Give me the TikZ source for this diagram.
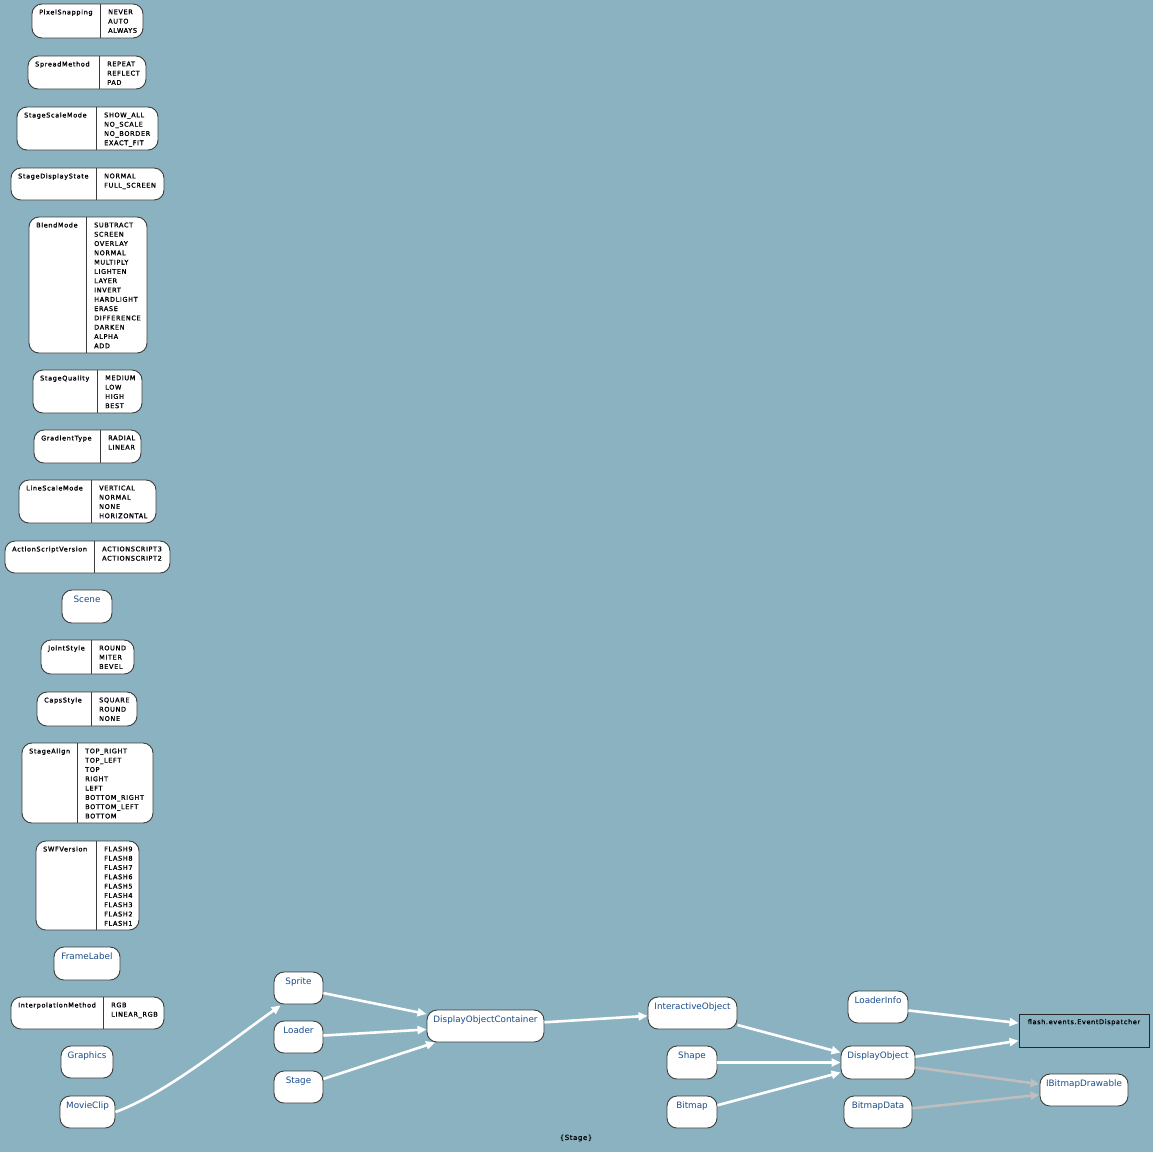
\documentclass[tikz,border=0pt]{standalone}
\usepackage{fontspec}
\setmainfont{DejaVu Sans}
\usetikzlibrary{fit,arrows.meta}
\definecolor{bgc}{RGB}{138,178,193}
\definecolor{lblue}{RGB}{26,76,138}
\definecolor{bord}{RGB}{60,60,60}
\definecolor{impl}{RGB}{190,190,190}
\newfontfamily\smallf[LetterSpace=10,FakeBold=1.2]{DejaVu Sans}
\newfontfamily\capf[LetterSpace=8,FakeBold=0.6]{DejaVu Sans}
\tikzset{
  recbox/.style={draw=bord, fill=white, rounded corners=10pt, inner sep=0pt, line width=0.9pt},
  divline/.style={draw=bord, line width=0.9pt},
  rectext/.style={inner sep=0pt, anchor=north west, align=left, font=\smallf\fontsize{6.5}{9.3}\selectfont, text=black},
  bluelbl/.style={inner sep=0pt, anchor=north, font=\fontsize{8.8}{10}\selectfont, text=lblue},
  edge/.style={draw=white, line width=2.6pt, -{Triangle[length=9pt,width=8pt]}},
  impledge/.style={draw=impl, line width=2.6pt, -{Triangle[length=9pt,width=8pt]}},
}
\newcommand{\mkrec}[8]{%
  \node[recbox, fit={(#2,#3)(#4,#5)}] (#1) {};
  \draw[divline] (#6,#3) -- (#6,#5);
  \node[rectext] (#1-t) at (#2+7,#3+5.3) {#7};
  \node[rectext] (#1-v) at (#6+8,#3+5.3) {#8};
}
\newcommand{\mkcls}[6]{%
  \node[recbox, fit={(#2,#3)(#4,#5)}] (#1) {};
  \node[bluelbl] (#1-t) at ({(#2+#4)/2},#3+5.5) {#6};
}
\begin{document}
\begin{tikzpicture}[x=1pt,y=-1pt]
\fill[bgc] (0,0) rectangle (1153,1152);
\useasboundingbox (0,0) rectangle (1153,1152);

\mkrec{PixelSnapping}{32}{4}{143}{38}{100}{PixelSnapping}{NEVER\\AUTO\\ALWAYS}
\mkrec{SpreadMethod}{28}{56}{146}{89}{99}{SpreadMethod}{REPEAT\\REFLECT\\PAD}
\mkrec{StageScaleMode}{17}{107}{158}{150}{96}{StageScaleMode}{SHOW\_ALL\\NO\_SCALE\\NO\_BORDER\\EXACT\_FIT}
\mkrec{StageDisplayState}{11}{168}{164}{200}{96}{StageDisplayState}{NORMAL\\FULL\_SCREEN}
\mkrec{BlendMode}{29}{217}{147}{353}{86}{BlendMode}{SUBTRACT\\SCREEN\\OVERLAY\\NORMAL\\MULTIPLY\\LIGHTEN\\LAYER\\INVERT\\HARDLIGHT\\ERASE\\DIFFERENCE\\DARKEN\\ALPHA\\ADD}
\mkrec{StageQuality}{33}{370}{142}{413}{97}{StageQuality}{MEDIUM\\LOW\\HIGH\\BEST}
\mkrec{GradientType}{34}{430}{141}{463}{100}{GradientType}{RADIAL\\LINEAR}
\mkrec{LineScaleMode}{19}{480}{156}{523}{91}{LineScaleMode}{VERTICAL\\NORMAL\\NONE\\HORIZONTAL}
\mkrec{ActionScriptVersion}{5}{541}{170}{573}{94}{ActionScriptVersion}{ACTIONSCRIPT3\\ACTIONSCRIPT2}
\mkcls{Scene}{62}{590}{112}{623}{Scene}
\mkrec{JointStyle}{41}{640}{134}{674}{91}{JointStyle}{ROUND\\MITER\\BEVEL}
\mkrec{CapsStyle}{37}{692}{137}{726}{91}{CapsStyle}{SQUARE\\ROUND\\NONE}
\mkrec{StageAlign}{22}{743}{153}{823}{77}{StageAlign}{TOP\_RIGHT\\TOP\_LEFT\\TOP\\RIGHT\\LEFT\\BOTTOM\_RIGHT\\BOTTOM\_LEFT\\BOTTOM}
\mkrec{SWFVersion}{36}{841}{139}{930}{96}{SWFVersion}{FLASH9\\FLASH8\\FLASH7\\FLASH6\\FLASH5\\FLASH4\\FLASH3\\FLASH2\\FLASH1}
\mkcls{FrameLabel}{54}{947}{120}{980}{FrameLabel}
\mkrec{InterpolationMethod}{11}{997}{164}{1029}{103}{InterpolationMethod}{RGB\\LINEAR\_RGB}
\mkcls{Graphics}{61}{1046}{113}{1078}{Graphics}
\mkcls{MovieClip}{60}{1096}{115}{1128}{MovieClip}

\mkcls{Sprite}{274}{972}{323}{1004}{Sprite}
\mkcls{Loader}{274}{1021}{323}{1053}{Loader}
\mkcls{Stage}{274}{1071}{323}{1103}{Stage}
\mkcls{DOC}{427}{1010}{544}{1042}{DisplayObjectContainer}
\mkcls{IO}{648}{997}{737}{1029}{InteractiveObject}
\mkcls{Shape}{667}{1046}{717}{1079}{Shape}
\mkcls{Bitmap}{667}{1096}{717}{1128}{Bitmap}
\mkcls{LoaderInfo}{848}{991}{908}{1023}{LoaderInfo}
\mkcls{DO}{841}{1046}{915}{1079}{DisplayObject}
\mkcls{BitmapData}{844}{1096}{912}{1128}{BitmapData}
\mkcls{IBD}{1040}{1074}{1128}{1106}{IBitmapDrawable}

\node[draw=black!85, line width=0.9pt, fill=bgc, inner sep=0pt, fit={(1019,1014)(1149,1047)}] (ED) {};
\node[rectext, anchor=north] (ED-t) at (1084,1019) {flash.events.EventDispatcher};

\node[inner sep=0pt, font=\capf\fontsize{7}{8}\selectfont] (caption) at (576,1138) {\{Stage\}};

\draw[edge] (MovieClip.east) .. controls (165,1094) and (225,1045) .. ([xshift=7pt,yshift=-1pt]Sprite.south west);
\draw[edge] (Sprite) -- (DOC);
\draw[edge] (Loader) -- (DOC);
\draw[edge] (Stage) -- (DOC);
\draw[edge] (DOC) -- (IO);
\draw[edge] (IO) -- (DO);
\draw[edge] (Shape) -- (DO);
\draw[edge] (Bitmap) -- (DO);
\draw[edge] (LoaderInfo) -- (ED);
\draw[edge] (DO) -- (ED);
\draw[impledge] (DO) -- (IBD);
\draw[impledge] (BitmapData) -- (IBD);
\end{tikzpicture}
\end{document}
